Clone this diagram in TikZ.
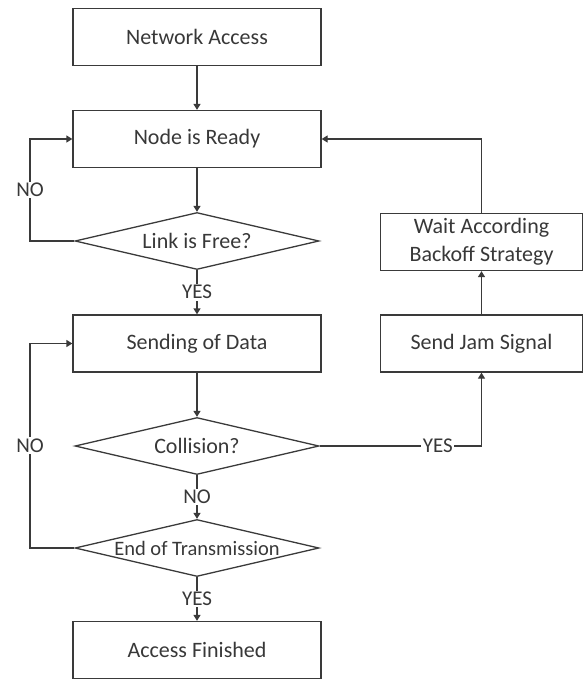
\documentclass[tikz,border=0pt]{standalone}
\usepackage{fontspec}
\setmainfont{Carlito}
\usetikzlibrary{shapes.geometric,arrows.meta}
\definecolor{ink}{HTML}{3A3A3A}
\definecolor{txt}{HTML}{383838}
\begin{document}
\begin{tikzpicture}[x=1pt,y=1pt,
  every node/.style={text=txt},
  line/.style={draw=ink,line width=1.3pt},
  arr/.style={line,-{Triangle[width=7pt,length=6pt]}},
  procbox/.style={draw=ink,line width=1.3pt,rectangle,minimum width=248pt,minimum height=57pt,inner sep=0pt,font=\fontsize{22}{28}\selectfont,align=center},
  sidebox/.style={procbox,minimum width=202pt},
  decide/.style={draw=ink,line width=1.3pt,diamond,minimum width=244pt,minimum height=57pt,inner sep=0pt,font=\fontsize{22}{26}\selectfont},
  lbl/.style={fill=white,inner sep=1.5pt,font=\fontsize{21}{24}\selectfont}]
\useasboundingbox (0,0) rectangle (584,-681);

% main column
\node[procbox] (net)   at (197,-37)    {Network Access};
\node[procbox] (ready) at (197,-139)   {Node is Ready};
\node[decide]  (link)  at (197,-241)   {\makebox[0pt]{Link is Free?}};
\node[procbox] (send)  at (197,-343.5) {Sending of Data};
\node[decide]  (coll)  at (197,-446)   {\makebox[0pt]{Collision?}};
\node[decide,font=\fontsize{20.5}{24}\selectfont] (endt) at (197,-548) {\makebox[0pt]{End of Transmission}};
\node[procbox] (fin)   at (197,-650)   {Access Finished};

% collision handling column
\node[sidebox] (wait) at (481.5,-242)   {Wait According\\Backoff Strategy};
\node[sidebox] (jam)  at (481.5,-343.5) {Send Jam Signal};

\coordinate (lA) at (30,-241);
\coordinate (lB) at (30,-139);
\coordinate (lC) at (30,-548);
\coordinate (lD) at (30,-343.5);
\coordinate (rA) at (481.5,-446);
\coordinate (rB) at (481.5,-139);

% connectors
\draw[arr] (net) -- (ready);
\draw[arr] (ready) -- (link);
\draw[arr] (link.west) -- (lA) -- node[lbl]{NO} (lB) -- (ready.west);
\draw[arr] (link.south) -- node[lbl]{YES} (send.north);
\draw[arr] (send) -- (coll);
\draw[arr] (coll.south) -- node[lbl]{NO} (endt.north);
\draw[arr] (endt.west) -- (lC) -- node[lbl]{NO} (lD) -- (send.west);
\draw[arr] (endt.south) -- node[lbl]{YES} (fin.north);
\draw[arr] (coll.east) -- node[lbl,pos=0.73]{YES} (rA) -- (jam.south);
\draw[arr] (jam) -- (wait);
\draw[arr] (wait.north) -- (rB) -- (ready.east);
\end{tikzpicture}
\end{document}
